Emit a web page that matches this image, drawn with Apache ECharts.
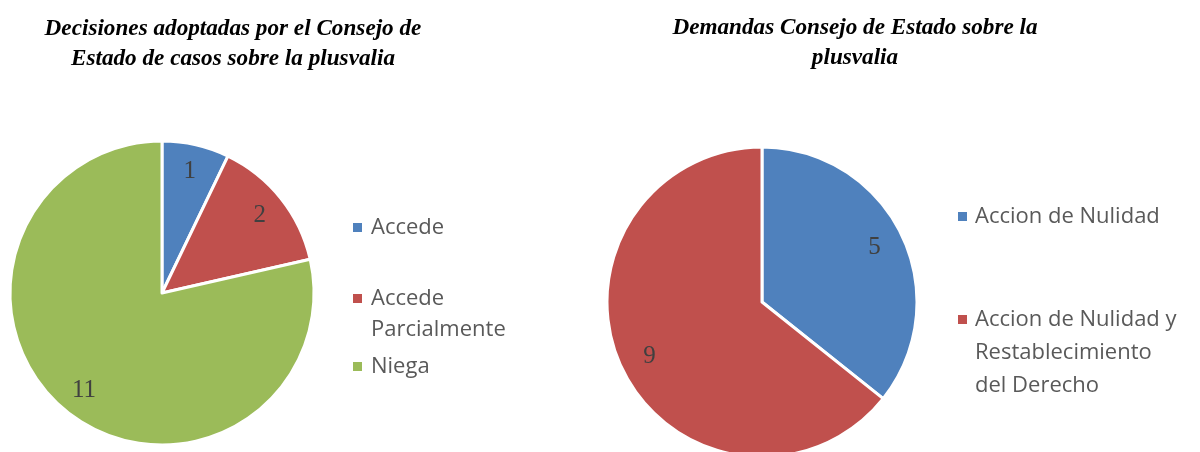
<!DOCTYPE html>
<html>
<head>
<meta charset="utf-8">
<script src="https://cdn.jsdelivr.net/npm/echarts@6/dist/echarts.min.js"></script>
<style>
html,body{margin:0;padding:0;background:#fff;}
#chart{width:1200px;height:452px;}
</style>
</head>
<body>
<div id="chart"></div>
<script>
// datos
var decisionNames = ['Accede', 'Accede Parcialmente', 'Niega'];
var decisionValues = [1, 2, 11];
var demandaNames = ['Accion de Nulidad', 'Accion de Nulidad y Restablecimiento del Derecho'];
var demandaValues = [5, 9];
var colors = ['#4F81BD', '#C0504D', '#9BBB59'];

// como se parten los textos de la leyenda
var legendText = {
    'Accede Parcialmente': 'Accede\nParcialmente',
    'Accion de Nulidad y Restablecimiento del Derecho': 'Accion de Nulidad y\nRestablecimiento\ndel Derecho'
};

var chart = echarts.init(document.getElementById('chart'));

function toData(names, values){
    return names.map(function(n, i){
        return {name: n, value: values[i], itemStyle: {color: colors[i]}};
    });
}

var titleFont = {fontFamily: 'Liberation Serif', fontStyle: 'italic', fontWeight: 'bold', fontSize: 23.2, lineHeight: 30, color: '#000'};
var labelFont = {fontFamily: 'Liberation Serif', fontSize: 25, color: '#404040'};

// el icono queda alineado con la primera linea: se anteponen lineas vacias
function oneLegend(name, left, top, lh, padLeft){
    return {
        data: [name],
        left: left,
        top: top,
        padding: 0,
        orient: 'vertical',
        icon: 'rect',
        itemWidth: 11,
        itemHeight: 11,
        selectedMode: false,
        formatter: function(n){
            var t = legendText[n] || n;
            var lines = t.split('\n').length;
            return new Array(lines).join(' \n') + t;
        },
        textStyle: {
            fontFamily: 'Open Sans',
            fontSize: 22,
            lineHeight: lh,
            color: '#595959',
            padding: [0, 0, 0, padLeft]
        }
    };
}

// pie visible + pie transparente para poner las etiquetas hacia el borde
function pies(names, values, center, r){
    return [{
        type: 'pie',
        center: center,
        radius: r,
        startAngle: 90,
        clockwise: true,
        silent: true,
        label: {show: false},
        labelLine: {show: false},
        itemStyle: {borderColor: '#fff', borderWidth: 3},
        data: toData(names, values)
    }, {
        type: 'pie',
        center: center,
        radius: [244 - r, r],
        startAngle: 90,
        clockwise: true,
        silent: true,
        legendHoverLink: false,
        label: Object.assign({show: true, position: 'inside', formatter: '{c}'}, labelFont),
        labelLine: {show: false},
        itemStyle: {color: 'rgba(0,0,0,0)', borderWidth: 0},
        data: names.map(function(n, i){ return {name: n, value: values[i]}; })
    }];
}

var option = {
    animation: false,
    backgroundColor: '#fff',
    title: [{
        text: 'Decisiones adoptadas por el Consejo de\nEstado de casos sobre la plusvalia',
        left: 233, top: 14, padding: 0,
        textAlign: 'center',
        textStyle: titleFont
    }, {
        text: 'Demandas Consejo de Estado sobre la\nplusvalia',
        left: 855, top: 13, padding: 0,
        textAlign: 'center',
        textStyle: titleFont
    }],
    legend: [
        oneLegend('Accede', 351, 212, 31, 3),
        oneLegend('Accede Parcialmente', 351, 252, 31, 3),
        oneLegend('Niega', 351, 351, 31, 3),
        oneLegend('Accion de Nulidad', 956, 200, 33, 2),
        oneLegend('Accion de Nulidad y Restablecimiento del Derecho', 956, 237, 33, 2)
    ],
    series: pies(decisionNames, decisionValues, [162, 293], 152)
        .concat(pies(demandaNames, demandaValues, [762, 302], 155))
};

chart.setOption(option);
</script>
</body>
</html>
